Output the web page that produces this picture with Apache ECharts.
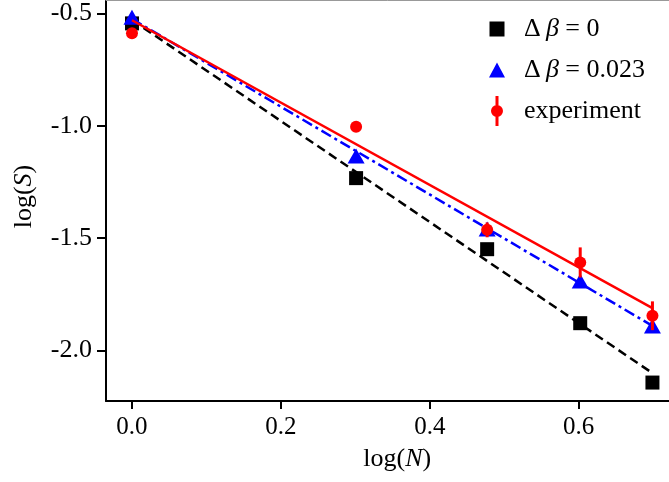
<!DOCTYPE html>
<html>
<head>
<meta charset="utf-8">
<script src="https://cdn.jsdelivr.net/npm/echarts@6/dist/echarts.min.js"></script>
<style>
html,body{margin:0;padding:0;background:#fff;}
#chart{width:669px;height:482px;}
</style>
</head>
<body>
<div id="chart"></div>
<script>
// ---- data ----
var logN = [0, 0.301, 0.477, 0.602, 0.699];
var sBeta0 = [-0.545, -1.233, -1.549, -1.878, -2.142];
var sBeta023 = [-0.518, -1.135, -1.459, -1.690, -1.891];
var sExp = [-0.589, -1.005, -1.463, -1.608, -1.845];
var sExpErr = [0.015, 0.015, 0.033, 0.067, 0.064];
var fitX = [0, 0.699];
var fitBeta0 = [-0.530, -2.100];
var fitBeta023 = [-0.525, -1.890];
var fitExp = [-0.531, -1.811];
var xTicks = [0.0, 0.2, 0.4, 0.6];
var yTicks = [-2.0, -1.5, -1.0, -0.5];
var names = ['Δβ = 0', 'Δβ = 0.023', 'experiment'];

function pairs(xs, ys) { return xs.map(function (x, i) { return [x, ys[i]]; }); }
function triples(xs, ys, es) { return xs.map(function (x, i) { return [x, ys[i], es[i]]; }); }

var FONT = 'Liberation Serif';
var anchors = 'M0,0 L0.01,0 L0,0.01 Z M37,30 L36.99,30 L37,29.99 Z ';
var iconSquare = 'path://' + anchors + 'M7.5,7.5 L22.5,7.5 L22.5,22.5 L7.5,22.5 Z';
var iconTri = 'path://' + anchors + 'M15,7.5 L23,22.5 L7,22.5 Z';
var iconExp = 'path://' + anchors + 'M13.5,0 L16.5,0 L16.5,30 L13.5,30 Z M15,9 A6,6 0 1 1 14.99,9 Z';

var chart = echarts.init(document.getElementById('chart'), null, {renderer: 'canvas'});
var xmin = -0.0349, xmax = 0.734, ymin = -2.224, ymax = -0.441;
var option = {
  animation: false,
  backgroundColor: '#ffffff',
  grid: {left: 106, top: 0, width: 572.5, bottom: 81, containLabel: false, outerBoundsMode: 'none'},
  legend: {
    orient: 'vertical',
    left: 482, top: 14,
    padding: 0,
    itemWidth: 37, itemHeight: 30, itemGap: 11,
    data: [
      {name: names[0], icon: iconSquare},
      {name: names[1], icon: iconTri},
      {name: names[2], icon: iconExp}
    ],
    formatter: function (n) {
      if (n === names[0]) return '{n|Δ\u2009}{i|β}{n| = 0}';
      if (n === names[1]) return '{n|Δ\u2009}{i|β}{n| = 0.023}';
      return '{n|experiment}';
    },
    textStyle: {
      color: '#000', fontFamily: FONT, fontSize: 26,
      rich: {
        n: {fontFamily: FONT, fontSize: 26, color: '#000'},
        i: {fontFamily: FONT, fontSize: 26, fontStyle: 'italic', color: '#000'}
      }
    }
  },
  xAxis: [{
    type: 'value', min: xmin, max: xmax, position: 'bottom',
    name: '{a|log(}{i|N}{a|)}', nameLocation: 'middle', nameGap: 45,
    nameTextStyle: {
      padding: [0, 0, 0, 10],
      rich: {
        a: {fontFamily: FONT, fontSize: 26, color: '#000'},
        i: {fontFamily: FONT, fontSize: 26, fontStyle: 'italic', color: '#000'}
      }
    },
    axisLine: {show: true, onZero: false, lineStyle: {color: '#000', width: 2}},
    axisTick: {show: true, length: 8, lineStyle: {color: '#000', width: 2}, customValues: xTicks},
    axisLabel: {show: true, customValues: xTicks, margin: 14, fontFamily: FONT, fontSize: 25, color: '#000',
      formatter: function (v) { return v.toFixed(1); }},
    splitLine: {show: false}
  }, {
    type: 'value', min: xmin, max: xmax, position: 'top',
    axisLine: {show: true, onZero: false, lineStyle: {color: '#999', width: 1}},
    axisTick: {show: false}, axisLabel: {show: false}, splitLine: {show: false}
  }],
  yAxis: {
    type: 'value', min: ymin, max: ymax,
    name: '{a|log(}{i|S}{a|)}', nameLocation: 'middle', nameGap: 69, nameRotate: 90,
    nameTextStyle: {
      padding: [0, 0, 0, 8],
      rich: {
        a: {fontFamily: FONT, fontSize: 26, color: '#000'},
        i: {fontFamily: FONT, fontSize: 26, fontStyle: 'italic', color: '#000'}
      }
    },
    axisLine: {show: true, onZero: false, lineStyle: {color: '#000', width: 2}},
    axisTick: {show: true, length: 9, lineStyle: {color: '#000', width: 2}, customValues: yTicks},
    axisLabel: {show: true, customValues: yTicks, margin: 14, fontFamily: FONT, fontSize: 26, color: '#000',
      formatter: function (v) { return v.toFixed(1); }},
    splitLine: {show: false}
  },
  series: [
    {
      name: names[0], type: 'scatter', z: 2,
      symbol: 'rect', symbolSize: 14,
      itemStyle: {color: '#000000', opacity: 1},
      data: pairs(logN, sBeta0)
    },
    {
      name: 'fit0', type: 'line', z: 3, symbol: 'none',
      lineStyle: {color: '#000000', width: 2.5, type: [9, 5]},
      data: pairs(fitX, fitBeta0)
    },
    {
      name: names[1], type: 'scatter', z: 4,
      symbol: 'triangle', symbolSize: [17, 15],
      itemStyle: {color: '#0000ff', opacity: 1},
      data: pairs(logN, sBeta023)
    },
    {
      name: 'fit023', type: 'line', z: 5, symbol: 'none',
      lineStyle: {color: '#0000ff', width: 2.5, type: [11, 4, 3, 4]},
      data: pairs(fitX, fitBeta023)
    },
    {
      name: 'expErr', type: 'custom', z: 6,
      renderItem: function (params, api) {
        var x = api.value(0), y = api.value(1), e = api.value(2);
        var p1 = api.coord([x, y + e]);
        var p2 = api.coord([x, y - e]);
        return {type: 'line', shape: {x1: p1[0], y1: p1[1], x2: p2[0], y2: p2[1]},
          style: {stroke: '#ff0000', lineWidth: 3}};
      },
      encode: {x: 0, y: 1},
      data: triples(logN, sExp, sExpErr)
    },
    {
      name: names[2], type: 'scatter', z: 7,
      symbol: 'circle', symbolSize: 12,
      itemStyle: {color: '#ff0000', opacity: 1},
      data: pairs(logN, sExp)
    },
    {
      name: 'fitExp', type: 'line', z: 8, symbol: 'none',
      lineStyle: {color: '#ff0000', width: 2.5, type: 'solid'},
      data: pairs(fitX, fitExp)
    }
  ]
};
chart.setOption(option);
</script>
</body>
</html>
